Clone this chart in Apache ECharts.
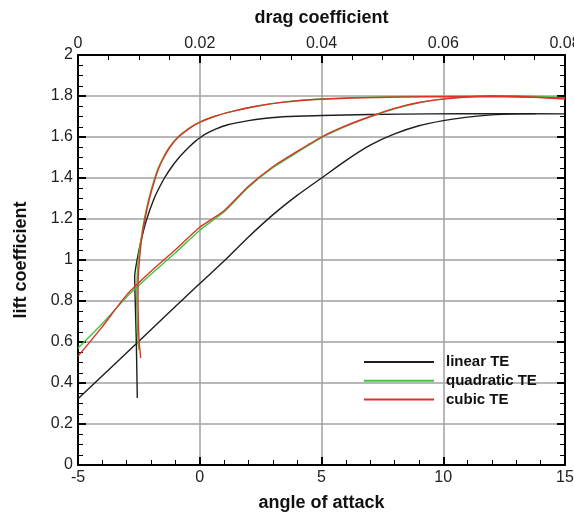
<!DOCTYPE html>
<html>
<head>
<meta charset="utf-8">
<script src="https://cdn.jsdelivr.net/npm/echarts@6/dist/echarts.min.js"></script>
<style>
html,body{margin:0;padding:0;background:#fff;}
#chart{width:574px;height:516px;}
</style>
</head>
<body>
<div id="chart"></div>
<script>
// ---- data: lift coefficient vs angle of attack (bottom axis) ----
const alphaLinear = [-5, -2.5, 0, 1, 2, 3, 4, 5, 6, 7, 8, 9, 10, 11, 12, 13, 13.8];
const clAlphaLinear = [0.323, 0.604, 0.885, 0.995, 1.112, 1.22, 1.315, 1.40, 1.485, 1.56, 1.615, 1.655, 1.68, 1.697, 1.708, 1.713, 1.714];

const alphaQuad = [-5, -4, -3, -2, -1, 0, 1, 2, 3, 4, 5, 6, 7, 8, 9, 10, 11, 12, 13, 14, 15];
const clAlphaQuad = [0.57, 0.69, 0.82, 0.93, 1.035, 1.145, 1.235, 1.355, 1.45, 1.525, 1.597, 1.652, 1.698, 1.738, 1.767, 1.786, 1.797, 1.802, 1.801, 1.797, 1.79];

const alphaCubic = [-5, -4, -3, -2, -1, 0, 1, 2, 3, 4, 5, 6, 7, 8, 9, 10, 11, 12, 13, 14, 15];
const clAlphaCubic = [0.53, 0.675, 0.83, 0.945, 1.05, 1.16, 1.24, 1.36, 1.455, 1.53, 1.60, 1.655, 1.70, 1.74, 1.768, 1.785, 1.795, 1.80, 1.798, 1.793, 1.785];

// ---- data: lift coefficient vs drag coefficient (top axis) ----
const cdLinear = [0.00974, 0.00958, 0.0094, 0.00931, 0.0097, 0.0104, 0.0113, 0.0125, 0.0133, 0.0142, 0.0153, 0.0166, 0.0182, 0.0193, 0.0202, 0.0213, 0.0227, 0.0246, 0.0280, 0.0305, 0.0345, 0.040, 0.048, 0.058, 0.068, 0.080];
const clPolarLinear = [0.327, 0.60, 0.80, 0.92, 1.0, 1.1, 1.2, 1.3, 1.35, 1.4, 1.45, 1.5, 1.55, 1.58, 1.60, 1.62, 1.64, 1.66, 1.68, 1.69, 1.70, 1.705, 1.71, 1.713, 1.714, 1.713];

const cdQuad = [0.0100, 0.00986, 0.00972, 0.00964, 0.0097, 0.0099, 0.01035, 0.0109, 0.01165, 0.0126, 0.0132, 0.0140, 0.0150, 0.0164, 0.0181, 0.0198, 0.0223, 0.0253, 0.0292, 0.0337, 0.039, 0.045, 0.053, 0.062, 0.070, 0.080];
const clPolarQuad = [0.562, 0.60, 0.70, 0.80, 0.90, 1.0, 1.1, 1.2, 1.3, 1.4, 1.45, 1.5, 1.55, 1.6, 1.64, 1.67, 1.70, 1.725, 1.75, 1.77, 1.784, 1.792, 1.797, 1.799, 1.798, 1.792];

const cdCubic = [0.0103, 0.01005, 0.00992, 0.00986, 0.00988, 0.0101, 0.01045, 0.0110, 0.01175, 0.0127, 0.0133, 0.0141, 0.0151, 0.0165, 0.0182, 0.0199, 0.0224, 0.0254, 0.0293, 0.0338, 0.039, 0.045, 0.053, 0.062, 0.070, 0.080];
const clPolarCubic = [0.522, 0.60, 0.70, 0.80, 0.90, 1.0, 1.1, 1.2, 1.3, 1.4, 1.45, 1.5, 1.55, 1.6, 1.64, 1.67, 1.70, 1.725, 1.75, 1.77, 1.783, 1.79, 1.795, 1.797, 1.796, 1.79];

const seriesNames = ['linear TE', 'quadratic TE', 'cubic TE'];
const seriesColors = ['#1e1e1e', '#3cc83c', '#e0302a'];

const zip = (xs, ys) => xs.map((x, i) => [x, ys[i]]);

const FONT = 'Liberation Sans, Arial, sans-serif';
const axisLineStyle = { color: '#000', width: 2 };

function lineSeries(name, color, data, xIdx, smooth) {
  return {
    name: name, type: 'line', xAxisIndex: xIdx, yAxisIndex: 0,
    data: data, symbol: 'none', smooth: smooth,
    lineStyle: { color: color, width: 1.4 },
    itemStyle: { color: color },
    emphasis: { disabled: true }, animation: false
  };
}

const chart = echarts.init(document.getElementById('chart'), null, { renderer: 'canvas' });
chart.setOption({
  animation: false,
  backgroundColor: '#fff',
  grid: { left: 78, right: 9, top: 55, bottom: 51, containLabel: false, outerBoundsMode: 'none' },
  legend: {
    data: seriesNames,
    orient: 'vertical',
    left: 364, top: 354, padding: 0,
    icon: 'rect', itemWidth: 70, itemHeight: 2, itemGap: 2.7,
    textStyle: { fontFamily: FONT, fontSize: 15, fontWeight: 'bold', color: '#111', lineHeight: 16, padding: [0, 0, 0, 7] }
  },
  xAxis: [
    {
      type: 'value', position: 'bottom', min: -5, max: 15, interval: 5,
      name: 'angle of attack', nameLocation: 'middle', nameGap: 29,
      nameTextStyle: { fontFamily: FONT, fontSize: 18, fontWeight: 'bold', color: '#111' },
      axisLine: { show: true, onZero: false, lineStyle: axisLineStyle },
      axisTick: { show: true, inside: true, length: 8, lineStyle: { color: '#000', width: 2 } },
      minorTick: { show: true, splitNumber: 5, length: 5, lineStyle: { color: '#000', width: 1 } },
      axisLabel: { fontFamily: FONT, fontSize: 16, color: '#222', margin: 5 },
      splitLine: { show: true, lineStyle: { color: '#a0a0a0', width: 1.5 } }
    },
    {
      type: 'value', position: 'top', min: 0, max: 0.08, interval: 0.02,
      name: 'drag coefficient', nameLocation: 'middle', nameGap: 28,
      nameTextStyle: { fontFamily: FONT, fontSize: 18, fontWeight: 'bold', color: '#111' },
      axisLine: { show: true, onZero: false, lineStyle: axisLineStyle },
      axisTick: { show: true, inside: true, length: 8, lineStyle: { color: '#000', width: 2 } },
      minorTick: { show: true, splitNumber: 4, length: 5, lineStyle: { color: '#000', width: 1 } },
      axisLabel: { fontFamily: FONT, fontSize: 16, color: '#222', margin: 3, formatter: v => (v === 0 ? '0' : String(+v.toFixed(2))) },
      splitLine: { show: false }
    }
  ],
  yAxis: [
    {
      type: 'value', position: 'left', min: 0, max: 2, interval: 0.2,
      name: 'lift coefficient', nameLocation: 'middle', nameGap: 48,
      nameTextStyle: { fontFamily: FONT, fontSize: 18, fontWeight: 'bold', color: '#111' },
      axisLine: { show: true, onZero: false, lineStyle: axisLineStyle },
      axisTick: { show: true, inside: true, length: 8, lineStyle: { color: '#000', width: 2 } },
      minorTick: { show: true, splitNumber: 4, length: 5, lineStyle: { color: '#000', width: 1 } },
      axisLabel: { fontFamily: FONT, fontSize: 16, color: '#222', margin: 5, formatter: v => String(+v.toFixed(1)) },
      splitLine: { show: true, lineStyle: { color: '#a0a0a0', width: 1.5 } }
    },
    {
      type: 'value', position: 'right', min: 0, max: 2, interval: 0.2,
      axisLine: { show: true, onZero: false, lineStyle: axisLineStyle },
      axisTick: { show: true, inside: true, length: 8, lineStyle: { color: '#000', width: 2 } },
      minorTick: { show: true, splitNumber: 4, length: 5, lineStyle: { color: '#000', width: 1 } },
      axisLabel: { show: false },
      splitLine: { show: false }
    }
  ],
  series: [
    lineSeries(seriesNames[0], seriesColors[0], zip(alphaLinear, clAlphaLinear), 0, 0.2),
    lineSeries(seriesNames[0], seriesColors[0], zip(cdLinear, clPolarLinear), 1, 0.15),
    lineSeries(seriesNames[1], seriesColors[1], zip(alphaQuad, clAlphaQuad), 0, 0.2),
    lineSeries(seriesNames[1], seriesColors[1], zip(cdQuad, clPolarQuad), 1, 0.15),
    lineSeries(seriesNames[2], seriesColors[2], zip(alphaCubic, clAlphaCubic), 0, 0.2),
    lineSeries(seriesNames[2], seriesColors[2], zip(cdCubic, clPolarCubic), 1, 0.15)
  ]
});
</script>
</body>
</html>
